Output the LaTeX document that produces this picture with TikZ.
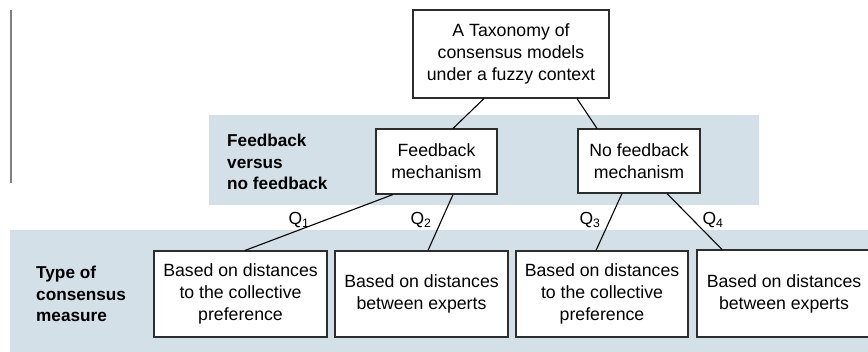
\documentclass[tikz,border=0pt]{standalone}
\usepackage{fontspec}
\setmainfont{Liberation Sans}
\usetikzlibrary{calc}
\definecolor{bandblue}{RGB}{211,224,232}
\definecolor{edgegray}{RGB}{45,45,45}
\tikzset{
  band/.style={fill=bandblue, draw=none},
  catbox/.style={draw=edgegray, line width=1.1pt, fill=white, align=center,
    inner sep=0pt, font=\fontsize{17.7}{22}\selectfont},
  rowlabel/.style={align=left, anchor=west, inner sep=0pt,
    font=\fontsize{17.2}{21.7}\selectfont\bfseries},
  qlabel/.style={inner sep=0pt, font=\fontsize{17.5}{20}\selectfont},
  link/.style={draw=black, line width=1.1pt}
}
\begin{document}
\begin{tikzpicture}[x=1pt, y=-1pt]
  \useasboundingbox (0,0) rectangle (868,352);
  % left margin rule
  \draw[gray, line width=1.6pt] (11,10) -- (11,183);
  % shaded rows
  \fill[band] (209,115) rectangle (759,205);
  \fill[band] (10,230) rectangle (880,352);
  % row headings
  \node[rowlabel] (rowfb) at (227,162) {Feedback\\versus\\no feedback};
  \node[rowlabel] (rowtype) at (36,294) {Type of\\consensus\\measure};
  % root
  \node[catbox, minimum width=196pt, minimum height=88pt] (top) at (511,54)
    {A Taxonomy of\\consensus models\\under a fuzzy context};
  % second level
  \node[catbox, minimum width=121pt, minimum height=65pt] (fb) at (436.5,161.5)
    {Feedback\\mechanism};
  \node[catbox, minimum width=122pt, minimum height=64pt] (nf) at (639,161)
    {No feedback\\mechanism};
  % third level
  \node[catbox, minimum width=173pt, minimum height=86pt] (b1) at (240.5,294)
    {Based on distances\\to the collective\\preference};
  \node[catbox, minimum width=173pt, minimum height=86pt] (b2) at (421.5,294)
    {Based on distances\\between experts};
  \node[catbox, minimum width=172pt, minimum height=86pt] (b3) at (602,294)
    {Based on distances\\to the collective\\preference};
  \node[catbox, minimum width=174pt, minimum height=87pt] (b4) at (784,293.5)
    {Based on distances\\between experts};
  % connectors
  \draw[link] ([xshift=-27pt]top.south) -- ([xshift=16.5pt]fb.north);
  \draw[link] ([xshift=66pt]top.south) -- ([xshift=-42pt]nf.north);
  \draw[link] ([xshift=-43.5pt]fb.south) -- ([xshift=4.5pt]b1.north);
  \draw[link] ([xshift=16.5pt]fb.south) -- ([xshift=6.5pt]b2.north);
  \draw[link] ([xshift=-17pt]nf.south) -- ([xshift=-6pt]b3.north);
  \draw[link] ([xshift=28pt]nf.south) -- ([xshift=-62pt]b4.north);
  % edge labels
  \node[qlabel] (q1) at (299,220) {Q\textsubscript{1}};
  \node[qlabel] (q2) at (421,220) {Q\textsubscript{2}};
  \node[qlabel] (q3) at (590,220) {Q\textsubscript{3}};
  \node[qlabel] (q4) at (713,220) {Q\textsubscript{4}};
\end{tikzpicture}
\end{document}
